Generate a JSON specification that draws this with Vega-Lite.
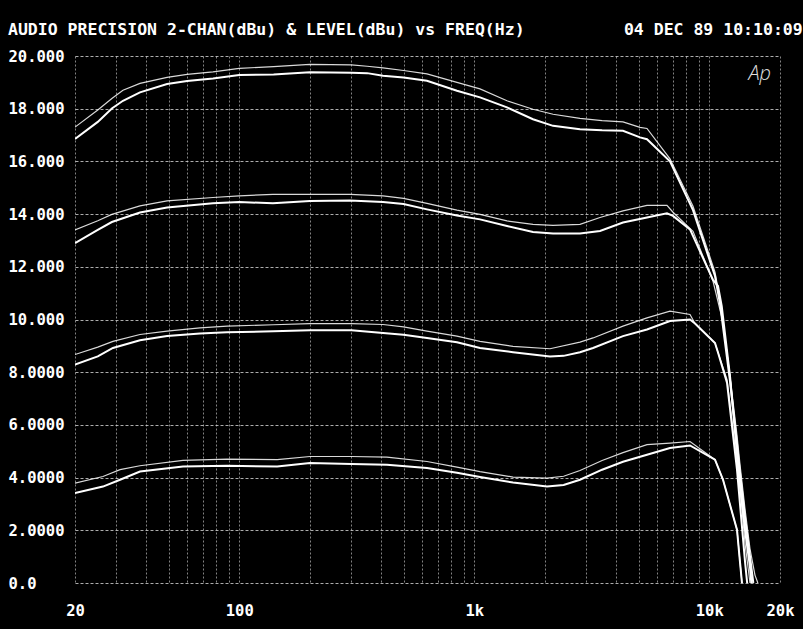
{
  "$schema": "https://vega.github.io/schema/vega-lite/v6.json",
  "width": 705,
  "height": 527,
  "autosize": {"type": "none"},
  "padding": {"left": 75, "top": 56, "right": 23, "bottom": 46},
  "background": "#000000",
  "config": {"view": {"stroke": null}},
  "title": {
    "text": "AUDIO PRECISION 2-CHAN(dBu) & LEVEL(dBu) vs FREQ(Hz)\u00a0\u00a0\u00a0\u00a0\u00a0\u00a0\u00a0\u00a0\u00a0\u00a004 DEC 89 10:10:09",
    "anchor": "start",
    "frame": "group",
    "dx": -67,
    "dy": 23,
    "offset": 21,
    "baseline": "alphabetic",
    "font": "DejaVu Sans Mono",
    "fontWeight": "bold",
    "fontSize": 16.5,
    "color": "#ffffff"
  },
  "layer": [
    {
      "data": {"values": [
        {"trace":"1A","channel":"A","freq":20,"level":17.3},{"trace":"1A","channel":"A","freq":25,"level":17.95},{"trace":"1A","channel":"A","freq":28.7,"level":18.39},{"trace":"1A","channel":"A","freq":32,"level":18.7},{"trace":"1A","channel":"A","freq":37.8,"level":18.96},{"trace":"1A","channel":"A","freq":49.3,"level":19.19},{"trace":"1A","channel":"A","freq":60,"level":19.3},{"trace":"1A","channel":"A","freq":77.3,"level":19.4},{"trace":"1A","channel":"A","freq":100,"level":19.53},{"trace":"1A","channel":"A","freq":140,"level":19.6},{"trace":"1A","channel":"A","freq":200,"level":19.68},{"trace":"1A","channel":"A","freq":300,"level":19.66},{"trace":"1A","channel":"A","freq":350,"level":19.61},{"trace":"1A","channel":"A","freq":409,"level":19.55},{"trace":"1A","channel":"A","freq":500,"level":19.45},{"trace":"1A","channel":"A","freq":629,"level":19.32},{"trace":"1A","channel":"A","freq":844,"level":19.0},{"trace":"1A","channel":"A","freq":1058,"level":18.75},{"trace":"1A","channel":"A","freq":1378,"level":18.3},{"trace":"1A","channel":"A","freq":1778,"level":17.98},{"trace":"1A","channel":"A","freq":2164,"level":17.79},{"trace":"1A","channel":"A","freq":2818,"level":17.63},{"trace":"1A","channel":"A","freq":3500,"level":17.55},{"trace":"1A","channel":"A","freq":4294,"level":17.5},{"trace":"1A","channel":"A","freq":5074,"level":17.29},{"trace":"1A","channel":"A","freq":5433,"level":17.25},{"trace":"1A","channel":"A","freq":6806,"level":16.1},{"trace":"1A","channel":"A","freq":8528,"level":14.3},{"trace":"1A","channel":"A","freq":10578,"level":11.8},{"trace":"1A","channel":"A","freq":11110,"level":10.76},{"trace":"1A","channel":"A","freq":12258,"level":7.83},{"trace":"1A","channel":"A","freq":13123,"level":5.6},{"trace":"1A","channel":"A","freq":13512,"level":4.5},{"trace":"1A","channel":"A","freq":14200,"level":2.8},{"trace":"1A","channel":"A","freq":14906,"level":1.3},{"trace":"1A","channel":"A","freq":15650,"level":0.3},{"trace":"1A","channel":"A","freq":16100,"level":0},
        {"trace":"1B","channel":"B","freq":20,"level":16.85},{"trace":"1B","channel":"B","freq":25,"level":17.5},{"trace":"1B","channel":"B","freq":28.7,"level":18.01},{"trace":"1B","channel":"B","freq":32,"level":18.3},{"trace":"1B","channel":"B","freq":37.8,"level":18.62},{"trace":"1B","channel":"B","freq":49.3,"level":18.94},{"trace":"1B","channel":"B","freq":60,"level":19.05},{"trace":"1B","channel":"B","freq":77.3,"level":19.15},{"trace":"1B","channel":"B","freq":100,"level":19.28},{"trace":"1B","channel":"B","freq":140,"level":19.3},{"trace":"1B","channel":"B","freq":200,"level":19.38},{"trace":"1B","channel":"B","freq":300,"level":19.36},{"trace":"1B","channel":"B","freq":350,"level":19.35},{"trace":"1B","channel":"B","freq":409,"level":19.25},{"trace":"1B","channel":"B","freq":500,"level":19.18},{"trace":"1B","channel":"B","freq":629,"level":19.06},{"trace":"1B","channel":"B","freq":844,"level":18.68},{"trace":"1B","channel":"B","freq":1058,"level":18.43},{"trace":"1B","channel":"B","freq":1378,"level":18.05},{"trace":"1B","channel":"B","freq":1778,"level":17.6},{"trace":"1B","channel":"B","freq":2164,"level":17.35},{"trace":"1B","channel":"B","freq":2818,"level":17.22},{"trace":"1B","channel":"B","freq":3500,"level":17.18},{"trace":"1B","channel":"B","freq":4294,"level":17.16},{"trace":"1B","channel":"B","freq":5074,"level":16.91},{"trace":"1B","channel":"B","freq":5433,"level":16.84},{"trace":"1B","channel":"B","freq":6806,"level":16.0},{"trace":"1B","channel":"B","freq":8528,"level":14.15},{"trace":"1B","channel":"B","freq":10578,"level":11.65},{"trace":"1B","channel":"B","freq":11110,"level":10.6},{"trace":"1B","channel":"B","freq":12258,"level":7.65},{"trace":"1B","channel":"B","freq":13123,"level":5.3},{"trace":"1B","channel":"B","freq":13512,"level":4.2},{"trace":"1B","channel":"B","freq":14200,"level":2.5},{"trace":"1B","channel":"B","freq":14906,"level":1.0},{"trace":"1B","channel":"B","freq":15400,"level":0},
        {"trace":"2A","channel":"A","freq":20,"level":13.4},{"trace":"2A","channel":"A","freq":25,"level":13.75},{"trace":"2A","channel":"A","freq":28.7,"level":13.99},{"trace":"2A","channel":"A","freq":37.8,"level":14.31},{"trace":"2A","channel":"A","freq":49.3,"level":14.5},{"trace":"2A","channel":"A","freq":77.3,"level":14.63},{"trace":"2A","channel":"A","freq":100,"level":14.69},{"trace":"2A","channel":"A","freq":139,"level":14.75},{"trace":"2A","channel":"A","freq":200,"level":14.75},{"trace":"2A","channel":"A","freq":296,"level":14.75},{"trace":"2A","channel":"A","freq":409,"level":14.69},{"trace":"2A","channel":"A","freq":500,"level":14.6},{"trace":"2A","channel":"A","freq":629,"level":14.41},{"trace":"2A","channel":"A","freq":844,"level":14.15},{"trace":"2A","channel":"A","freq":1058,"level":13.99},{"trace":"2A","channel":"A","freq":1378,"level":13.74},{"trace":"2A","channel":"A","freq":1778,"level":13.61},{"trace":"2A","channel":"A","freq":2164,"level":13.57},{"trace":"2A","channel":"A","freq":2818,"level":13.61},{"trace":"2A","channel":"A","freq":3428,"level":13.87},{"trace":"2A","channel":"A","freq":4294,"level":14.12},{"trace":"2A","channel":"A","freq":5433,"level":14.33},{"trace":"2A","channel":"A","freq":6608,"level":14.33},{"trace":"2A","channel":"A","freq":7010,"level":14.07},{"trace":"2A","channel":"A","freq":8528,"level":13.35},{"trace":"2A","channel":"A","freq":10376,"level":11.45},{"trace":"2A","channel":"A","freq":11443,"level":9.9},{"trace":"2A","channel":"A","freq":12258,"level":7.83},{"trace":"2A","channel":"A","freq":13123,"level":5.0},{"trace":"2A","channel":"A","freq":13512,"level":3.9},{"trace":"2A","channel":"A","freq":14200,"level":2.2},{"trace":"2A","channel":"A","freq":14906,"level":0.8},{"trace":"2A","channel":"A","freq":15200,"level":0},
        {"trace":"2B","channel":"B","freq":20,"level":12.9},{"trace":"2B","channel":"B","freq":25,"level":13.4},{"trace":"2B","channel":"B","freq":28.7,"level":13.7},{"trace":"2B","channel":"B","freq":37.8,"level":14.06},{"trace":"2B","channel":"B","freq":49.3,"level":14.25},{"trace":"2B","channel":"B","freq":77.3,"level":14.41},{"trace":"2B","channel":"B","freq":100,"level":14.46},{"trace":"2B","channel":"B","freq":139,"level":14.41},{"trace":"2B","channel":"B","freq":200,"level":14.5},{"trace":"2B","channel":"B","freq":296,"level":14.52},{"trace":"2B","channel":"B","freq":409,"level":14.46},{"trace":"2B","channel":"B","freq":500,"level":14.38},{"trace":"2B","channel":"B","freq":629,"level":14.18},{"trace":"2B","channel":"B","freq":844,"level":13.95},{"trace":"2B","channel":"B","freq":1058,"level":13.8},{"trace":"2B","channel":"B","freq":1378,"level":13.55},{"trace":"2B","channel":"B","freq":1778,"level":13.32},{"trace":"2B","channel":"B","freq":2164,"level":13.26},{"trace":"2B","channel":"B","freq":2818,"level":13.26},{"trace":"2B","channel":"B","freq":3428,"level":13.36},{"trace":"2B","channel":"B","freq":4294,"level":13.68},{"trace":"2B","channel":"B","freq":5433,"level":13.87},{"trace":"2B","channel":"B","freq":6608,"level":14.03},{"trace":"2B","channel":"B","freq":7010,"level":13.93},{"trace":"2B","channel":"B","freq":8281,"level":13.42},{"trace":"2B","channel":"B","freq":10376,"level":11.5},{"trace":"2B","channel":"B","freq":10894,"level":11.27},{"trace":"2B","channel":"B","freq":11300,"level":10.51},{"trace":"2B","channel":"B","freq":12258,"level":7.83},{"trace":"2B","channel":"B","freq":13123,"level":4.9},{"trace":"2B","channel":"B","freq":13512,"level":3.7},{"trace":"2B","channel":"B","freq":14200,"level":2.0},{"trace":"2B","channel":"B","freq":14906,"level":0.6},{"trace":"2B","channel":"B","freq":15100,"level":0},
        {"trace":"3A","channel":"A","freq":20,"level":8.67},{"trace":"3A","channel":"A","freq":25,"level":8.95},{"trace":"3A","channel":"A","freq":29,"level":9.17},{"trace":"3A","channel":"A","freq":37.8,"level":9.43},{"trace":"3A","channel":"A","freq":49.3,"level":9.56},{"trace":"3A","channel":"A","freq":68.1,"level":9.68},{"trace":"3A","channel":"A","freq":88.7,"level":9.75},{"trace":"3A","channel":"A","freq":140,"level":9.8},{"trace":"3A","channel":"A","freq":200,"level":9.84},{"trace":"3A","channel":"A","freq":300,"level":9.84},{"trace":"3A","channel":"A","freq":409,"level":9.81},{"trace":"3A","channel":"A","freq":500,"level":9.72},{"trace":"3A","channel":"A","freq":629,"level":9.56},{"trace":"3A","channel":"A","freq":844,"level":9.37},{"trace":"3A","channel":"A","freq":1058,"level":9.17},{"trace":"3A","channel":"A","freq":1462,"level":8.98},{"trace":"3A","channel":"A","freq":2100,"level":8.89},{"trace":"3A","channel":"A","freq":2818,"level":9.14},{"trace":"3A","channel":"A","freq":3202,"level":9.3},{"trace":"3A","channel":"A","freq":4294,"level":9.75},{"trace":"3A","channel":"A","freq":5433,"level":10.06},{"trace":"3A","channel":"A","freq":6806,"level":10.32},{"trace":"3A","channel":"A","freq":8281,"level":10.19},{"trace":"3A","channel":"A","freq":8696,"level":9.85},{"trace":"3A","channel":"A","freq":10578,"level":9.11},{"trace":"3A","channel":"A","freq":10894,"level":8.75},{"trace":"3A","channel":"A","freq":11900,"level":7.72},{"trace":"3A","channel":"A","freq":13123,"level":4.6},{"trace":"3A","channel":"A","freq":13780,"level":2.8},{"trace":"3A","channel":"A","freq":14200,"level":1.5},{"trace":"3A","channel":"A","freq":14906,"level":0},
        {"trace":"3B","channel":"B","freq":20,"level":8.29},{"trace":"3B","channel":"B","freq":25,"level":8.6},{"trace":"3B","channel":"B","freq":29,"level":8.92},{"trace":"3B","channel":"B","freq":37.8,"level":9.21},{"trace":"3B","channel":"B","freq":49.3,"level":9.37},{"trace":"3B","channel":"B","freq":68.1,"level":9.47},{"trace":"3B","channel":"B","freq":88.7,"level":9.52},{"trace":"3B","channel":"B","freq":140,"level":9.55},{"trace":"3B","channel":"B","freq":200,"level":9.59},{"trace":"3B","channel":"B","freq":300,"level":9.59},{"trace":"3B","channel":"B","freq":409,"level":9.49},{"trace":"3B","channel":"B","freq":500,"level":9.42},{"trace":"3B","channel":"B","freq":629,"level":9.3},{"trace":"3B","channel":"B","freq":844,"level":9.14},{"trace":"3B","channel":"B","freq":1058,"level":8.92},{"trace":"3B","channel":"B","freq":1462,"level":8.76},{"trace":"3B","channel":"B","freq":2100,"level":8.6},{"trace":"3B","channel":"B","freq":2400,"level":8.62},{"trace":"3B","channel":"B","freq":2818,"level":8.76},{"trace":"3B","channel":"B","freq":3202,"level":8.92},{"trace":"3B","channel":"B","freq":4294,"level":9.37},{"trace":"3B","channel":"B","freq":5433,"level":9.62},{"trace":"3B","channel":"B","freq":6806,"level":9.94},{"trace":"3B","channel":"B","freq":8281,"level":10.0},{"trace":"3B","channel":"B","freq":8696,"level":9.85},{"trace":"3B","channel":"B","freq":10578,"level":9.11},{"trace":"3B","channel":"B","freq":10894,"level":8.75},{"trace":"3B","channel":"B","freq":11900,"level":7.6},{"trace":"3B","channel":"B","freq":13123,"level":4.3},{"trace":"3B","channel":"B","freq":13512,"level":3.0},{"trace":"3B","channel":"B","freq":14200,"level":0.8},{"trace":"3B","channel":"B","freq":14500,"level":0},
        {"trace":"4A","channel":"A","freq":20,"level":3.79},{"trace":"4A","channel":"A","freq":26.3,"level":4.04},{"trace":"4A","channel":"A","freq":31.1,"level":4.3},{"trace":"4A","channel":"A","freq":37.8,"level":4.45},{"trace":"4A","channel":"A","freq":57.6,"level":4.65},{"trace":"4A","channel":"A","freq":88.7,"level":4.7},{"trace":"4A","channel":"A","freq":145,"level":4.68},{"trace":"4A","channel":"A","freq":200,"level":4.8},{"trace":"4A","channel":"A","freq":300,"level":4.8},{"trace":"4A","channel":"A","freq":425,"level":4.78},{"trace":"4A","channel":"A","freq":629,"level":4.61},{"trace":"4A","channel":"A","freq":844,"level":4.4},{"trace":"4A","channel":"A","freq":1058,"level":4.23},{"trace":"4A","channel":"A","freq":1462,"level":4.02},{"trace":"4A","channel":"A","freq":2040,"level":3.98},{"trace":"4A","channel":"A","freq":2400,"level":4.05},{"trace":"4A","channel":"A","freq":2818,"level":4.27},{"trace":"4A","channel":"A","freq":3500,"level":4.65},{"trace":"4A","channel":"A","freq":4294,"level":4.95},{"trace":"4A","channel":"A","freq":5433,"level":5.25},{"trace":"4A","channel":"A","freq":6806,"level":5.31},{"trace":"4A","channel":"A","freq":8281,"level":5.37},{"trace":"4A","channel":"A","freq":10578,"level":4.68},{"trace":"4A","channel":"A","freq":11443,"level":3.92},{"trace":"4A","channel":"A","freq":13123,"level":2.02},{"trace":"4A","channel":"A","freq":13780,"level":0},
        {"trace":"4B","channel":"B","freq":20,"level":3.41},{"trace":"4B","channel":"B","freq":26.3,"level":3.66},{"trace":"4B","channel":"B","freq":31.1,"level":3.92},{"trace":"4B","channel":"B","freq":37.8,"level":4.23},{"trace":"4B","channel":"B","freq":57.6,"level":4.42},{"trace":"4B","channel":"B","freq":88.7,"level":4.45},{"trace":"4B","channel":"B","freq":145,"level":4.42},{"trace":"4B","channel":"B","freq":200,"level":4.55},{"trace":"4B","channel":"B","freq":300,"level":4.52},{"trace":"4B","channel":"B","freq":425,"level":4.49},{"trace":"4B","channel":"B","freq":629,"level":4.36},{"trace":"4B","channel":"B","freq":844,"level":4.18},{"trace":"4B","channel":"B","freq":1058,"level":4.02},{"trace":"4B","channel":"B","freq":1462,"level":3.81},{"trace":"4B","channel":"B","freq":2040,"level":3.66},{"trace":"4B","channel":"B","freq":2400,"level":3.72},{"trace":"4B","channel":"B","freq":2818,"level":3.92},{"trace":"4B","channel":"B","freq":3500,"level":4.3},{"trace":"4B","channel":"B","freq":4294,"level":4.6},{"trace":"4B","channel":"B","freq":5433,"level":4.87},{"trace":"4B","channel":"B","freq":6806,"level":5.12},{"trace":"4B","channel":"B","freq":8281,"level":5.22},{"trace":"4B","channel":"B","freq":10578,"level":4.68},{"trace":"4B","channel":"B","freq":11443,"level":3.92},{"trace":"4B","channel":"B","freq":13123,"level":2.02},{"trace":"4B","channel":"B","freq":13512,"level":0.8},{"trace":"4B","channel":"B","freq":13780,"level":0}
      ]},
      "mark": {"type": "line", "color": "#ffffff", "clip": true, "interpolate": "linear"},
      "encoding": {
        "x": {
          "field": "freq", "type": "quantitative",
          "scale": {"type": "log", "domain": [20, 20000], "nice": false},
          "axis": {
            "title": null,
            "values": [20,30,40,50,60,70,80,90,100,200,300,400,500,600,700,800,900,1000,2000,3000,4000,5000,6000,7000,8000,9000,10000,20000],
            "labelExpr": "indexof([20,100,1000,10000,20000], datum.value) >= 0 ? (datum.value >= 1000 ? (datum.value/1000) + 'k' : '' + datum.value) : ''",
            "labelOverlap": false,
            "labelFlush": false,
            "labelBound": false,
            "ticks": false,
            "domain": false,
            "grid": true,
            "gridColor": "#c8c8c8",
            "gridOpacity": 0.65,
            "gridDash": [2, 2],
            "gridWidth": 1,
            "labelFont": "DejaVu Sans Mono",
            "labelFontWeight": "bold",
            "labelFontSize": 15.5,
            "labelColor": "#ffffff",
            "labelBaseline": "alphabetic",
            "labelPadding": 32
          }
        },
        "y": {
          "field": "level", "type": "quantitative",
          "scale": {"domain": [0, 20], "nice": false, "zero": false},
          "axis": {
            "title": null,
            "values": [0,2,4,6,8,10,12,14,16,18,20],
            "labelExpr": "datum.value == 0 ? '0.0' : format(datum.value, '.5r')",
            "labelAlign": "left",
            "labelBaseline": "middle",
            "labelPadding": 67,
            "labelOverlap": false,
            "labelFlush": false,
            "labelBound": false,
            "ticks": false,
            "domain": false,
            "grid": true,
            "gridColor": "#d8d8d8",
            "gridOpacity": 0.8,
            "gridDash": [3, 2],
            "gridWidth": 1,
            "labelFont": "DejaVu Sans Mono",
            "labelFontWeight": "bold",
            "labelFontSize": 15.5,
            "labelColor": "#ffffff"
          }
        },
        "detail": {"field": "trace", "type": "nominal"},
        "strokeWidth": {"field": "channel", "type": "nominal", "scale": {"domain": ["A", "B"], "range": [1.2, 2.0]}, "legend": null},
        "opacity": {"field": "channel", "type": "nominal", "scale": {"domain": ["A", "B"], "range": [0.85, 1]}, "legend": null}
      }
    },
    {
      "data": {"values": [{"label": "Ap", "freq": 16400, "level": 19.3}]},
      "mark": {"type": "text", "font": "Open Sans", "fontStyle": "italic", "fontWeight": 300, "fontSize": 20, "color": "#e0e0e0", "align": "center", "baseline": "middle"},
      "encoding": {
        "x": {"field": "freq", "type": "quantitative"},
        "y": {"field": "level", "type": "quantitative"},
        "text": {"field": "label", "type": "nominal"}
      }
    }
  ]
}
